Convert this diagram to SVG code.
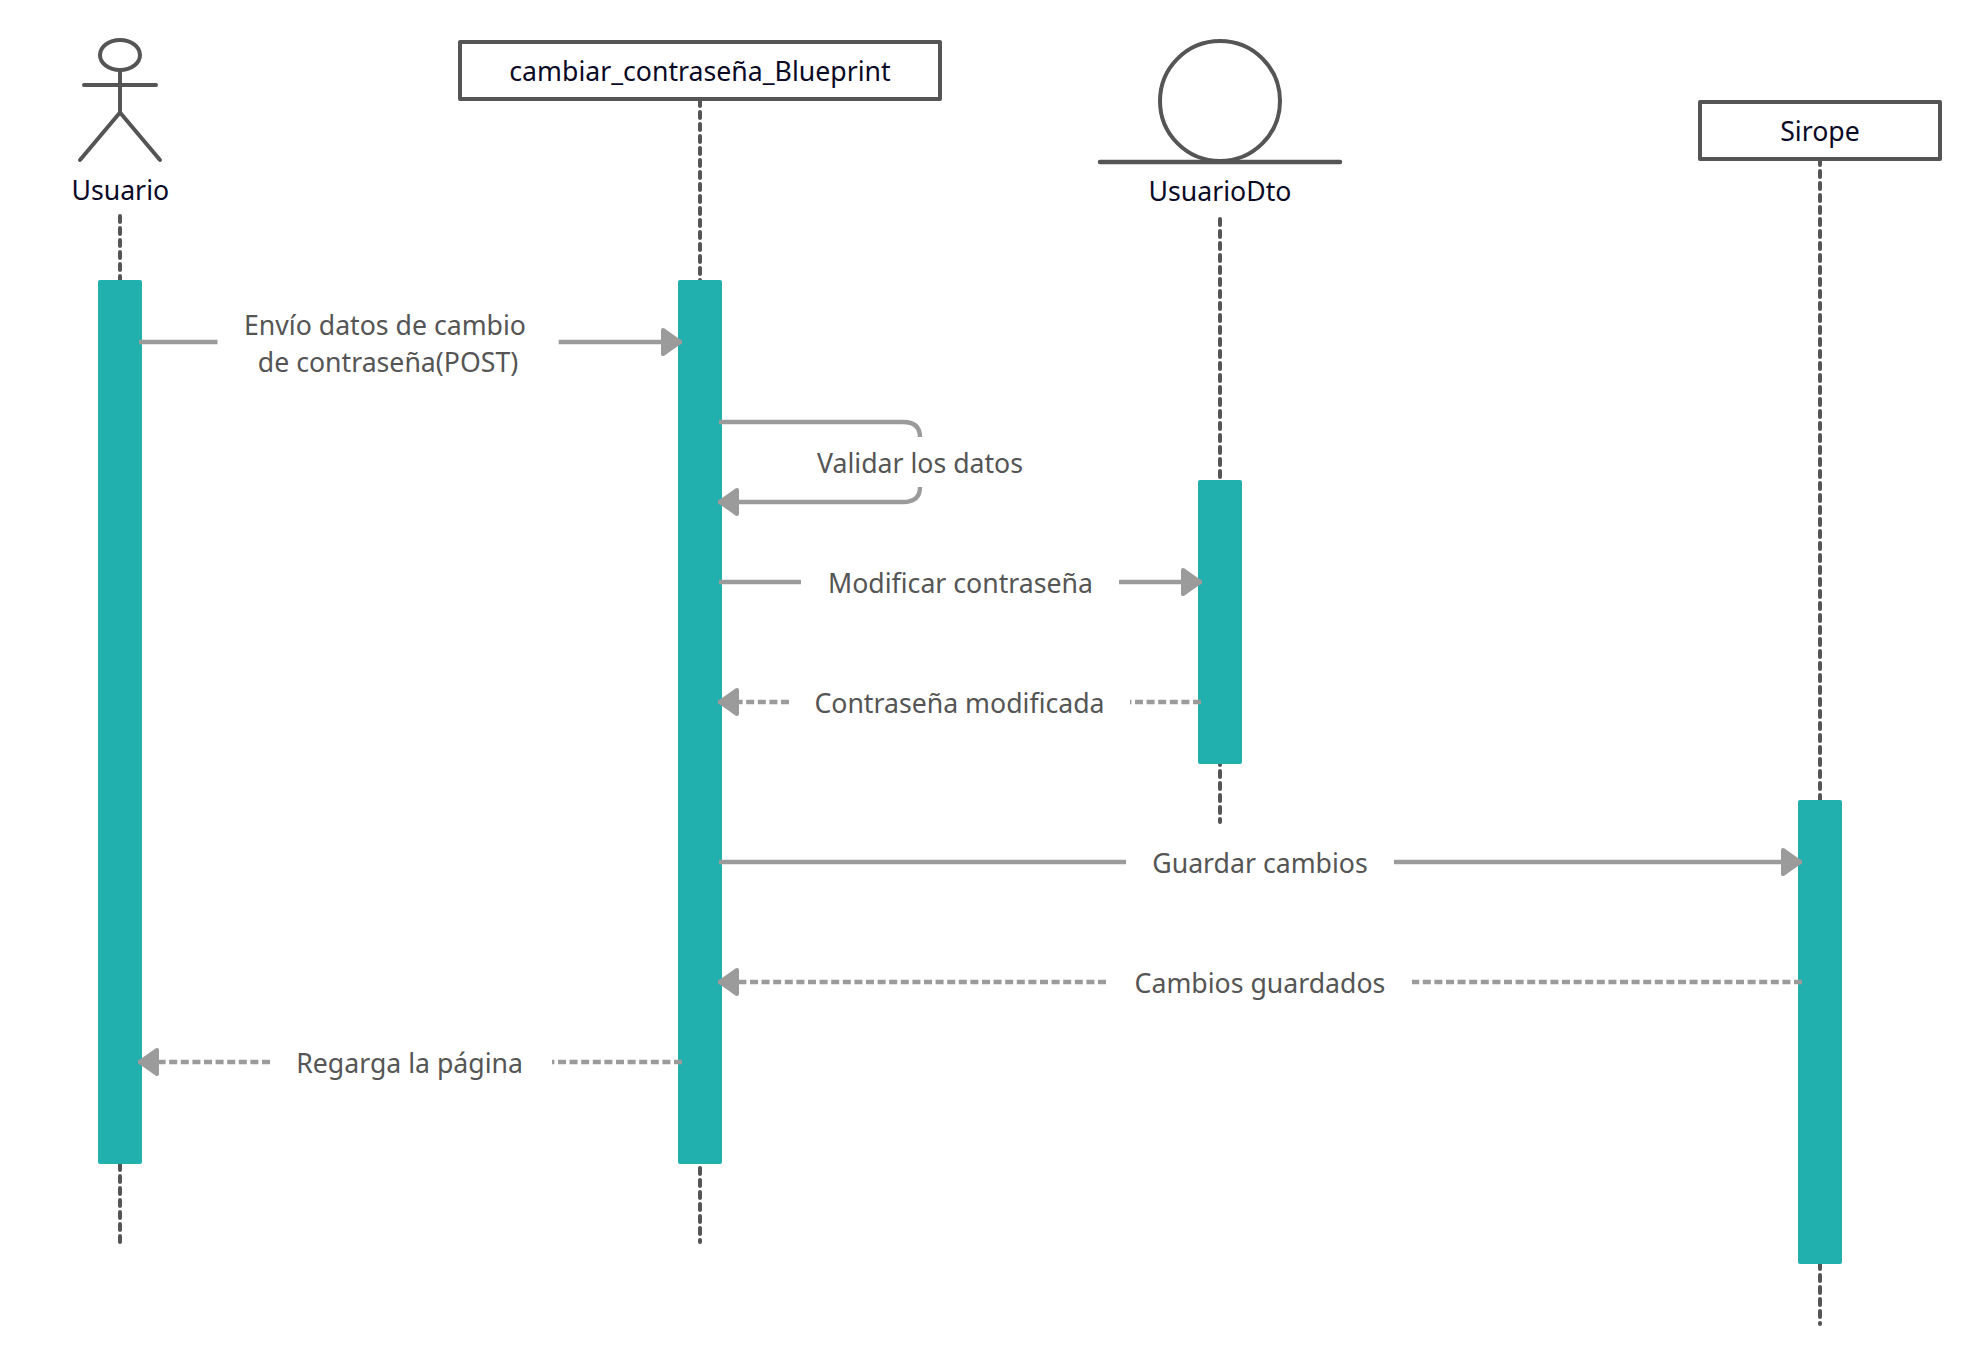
<svg xmlns="http://www.w3.org/2000/svg" width="1980" height="1365" viewBox="0 0 1980 1365">
<style>
text{font-family:"Noto Sans","Open Sans","Liberation Sans",sans-serif;font-size:26.67px;text-anchor:middle}
.n{fill:#0a0a26}
.c{fill:#555}
.s{fill:none;stroke:#555;stroke-width:4;stroke-linecap:round;stroke-linejoin:round}
.box{fill:#fff;stroke:#555;stroke-width:4;stroke-linejoin:round}
.life{fill:none;stroke:#555;stroke-width:4;stroke-dasharray:6 6;stroke-linecap:round}
.bar{fill:#22b0ae}
.m{fill:none;stroke:#9b9b9b;stroke-width:4.300;stroke-linejoin:round}
.d{stroke-dasharray:8 3.6}
</style>
<defs>
<marker id="arrow" markerUnits="userSpaceOnUse" markerWidth="30" markerHeight="34" refX="26" refY="17" orient="auto" overflow="visible">
<path d="M7,5 L24,17 L7,29 Z" fill="#9b9b9b" stroke="#9b9b9b" stroke-width="4" stroke-linejoin="round"/>
</marker>
</defs>
<g id="lifelines">
<path class="life" d="M120,216V1242"/>
<path class="life" d="M700,100V1242"/>
<path class="life" d="M1220,219V822"/>
<path class="life" d="M1820,159V1324"/>
</g>
<g id="usuario">
<ellipse class="s" cx="120" cy="55" rx="20" ry="15"/>
<path class="s" d="M120,70V112.500M84,85H156M120,112.500L80,160M120,112.500L160,160"/>
<text class="n" x="120.300" y="199.500">Usuario</text>
<rect class="bar" x="98" y="280" width="44" height="884" rx="2"/>
</g>
<g id="blueprint">
<rect class="box" x="460" y="42" width="480" height="57"/>
<text class="n" x="700" y="80.700">cambiar_contraseña_Blueprint</text>
<rect class="bar" x="678" y="280" width="44" height="884" rx="2"/>
</g>
<g id="usuariodto">
<circle class="s" cx="1220" cy="101" r="60"/>
<path class="s" d="M1100,162H1340" style="stroke-width:4.500"/>
<text class="n" x="1220" y="200.500">UsuarioDto</text>
<rect class="bar" x="1198" y="480" width="44" height="284" rx="2"/>
</g>
<g id="sirope">
<rect class="box" x="1700" y="102" width="240" height="57"/>
<text class="n" x="1820" y="140.700">Sirope</text>
<rect class="bar" x="1798" y="800" width="44" height="464" rx="2"/>
</g>
<g id="connectors">
<path class="m" d="M139,342H217.500"/>
<path class="m" d="M558.700,342H682" marker-end="url(#arrow)"/>
<path class="m" d="M719,422H903Q920,422 920,437"/>
<path class="m" d="M920,487Q920,502 903,502H718" marker-end="url(#arrow)"/>
<path class="m" d="M719,582H801"/>
<path class="m" d="M1119,582H1202" marker-end="url(#arrow)"/>
<path class="m d" d="M789,702H718" marker-end="url(#arrow)"/>
<path class="m d" d="M1201,702H1130"/>
<path class="m" d="M719,862H1126"/>
<path class="m" d="M1394,862H1802" marker-end="url(#arrow)"/>
<path class="m d" d="M1106,982H718" marker-end="url(#arrow)"/>
<path class="m d" d="M1802,982H1412"/>
<path class="m d" d="M270,1062H138" marker-end="url(#arrow)"/>
<path class="m d" d="M682,1062H552"/>
</g>
<g id="labels">
<text class="c" x="385" y="334.500">Envío datos de cambio</text>
<text class="c" x="388" y="371.500">de contraseña(POST)</text>
<text class="c" x="920" y="472.500">Validar los datos</text>
<text class="c" x="960.500" y="592.500">Modificar contraseña</text>
<text class="c" x="959.500" y="712.500">Contraseña modificada</text>
<text class="c" x="1260" y="872.500">Guardar cambios</text>
<text class="c" x="1260" y="992.500">Cambios guardados</text>
<text class="c" x="409.600" y="1072.500">Regarga la página</text>
</g>
</svg>
